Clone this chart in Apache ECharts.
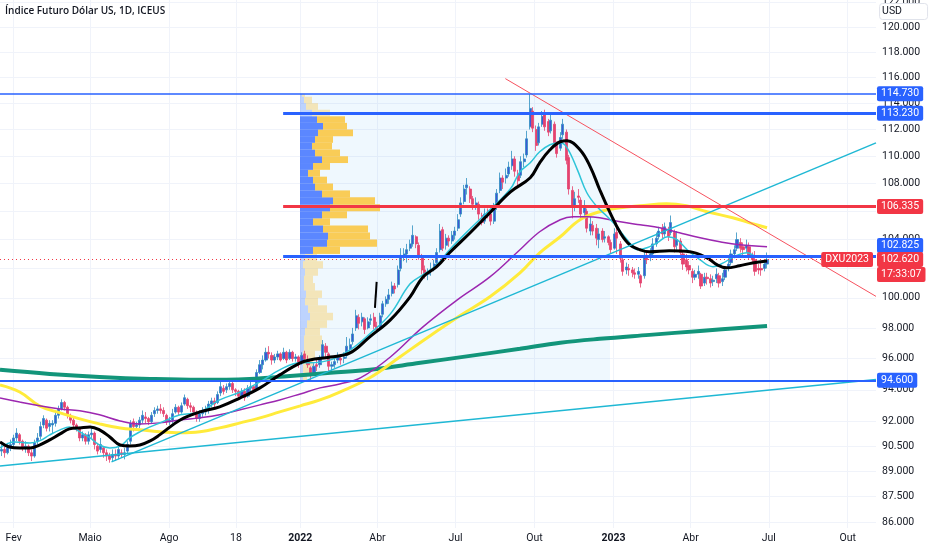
<!DOCTYPE html>
<html><head><meta charset="utf-8">
<script src="https://cdn.jsdelivr.net/npm/echarts@6/dist/echarts.min.js"></script>
<style>html,body{margin:0;padding:0;background:#fff}#c{width:932px;height:550px}</style>
</head><body><div id="c"></div>
<script>
const chartTitle = 'Índice Futuro Dólar US, 1D, ICEUS';
const currency = 'USD';
const symbolName = 'DXU2023';
const countdown = '17:33:07';
const lastPrice = 102.62;
const xMin = '2021-01-16', xMax = '2023-11-03';
const firstCandleDate = '2021-01-18'; // candles every Mon / Thu

// [open, close, low, high]
const candles = [
[90.2,90.3,89.9,90.6],[90.3,90.1,89.8,90.5],[90.1,90.4,90.0,90.7],[90.4,90.6,90.2,90.9],[90.6,91.0,90.4,91.2],[91.0,91.3,90.8,91.6],
[91.2,90.8,90.6,91.3],[90.8,90.4,90.2,90.9],[90.4,90.5,90.1,90.8],[90.5,90.1,89.9,90.6],[90.1,89.9,89.6,90.3],[89.9,90.7,89.8,90.9],
[90.8,91.0,90.6,91.3],[91.1,91.7,90.9,92.0],[91.8,92.2,91.6,92.4],[92.1,91.6,91.4,92.2],[91.7,91.9,91.4,92.1],[91.8,91.9,91.3,92.1],
[91.9,92.4,91.7,92.6],[92.4,92.8,92.2,93.0],[92.8,93.2,92.7,93.4],[93.2,92.9,92.7,93.3],[92.9,92.4,92.2,93.0],[92.4,92.1,91.9,92.5],
[92.1,91.8,91.6,92.3],[91.8,91.6,91.4,91.9],[91.6,91.0,90.8,91.7],[91.0,91.2,90.8,91.4],[91.2,90.8,90.6,91.3],[90.8,91.2,90.6,91.4],
[91.2,91.3,91.0,91.6],[91.3,90.6,90.3,91.4],[90.5,90.2,90.0,90.7],[90.3,90.6,90.1,91.0],[90.4,90.1,89.8,90.5],[90.1,89.9,89.6,90.3],
[89.9,89.7,89.5,90.1],[89.8,90.0,89.6,90.3],[90.0,89.9,89.6,90.3],[89.9,90.3,89.7,90.6],[90.1,90.0,89.8,90.3],[90.0,90.1,89.7,90.4],
[90.2,90.6,90.0,90.8],[90.8,91.9,90.6,92.1],[92.0,91.7,91.4,92.2],[91.7,91.8,91.5,92.0],[91.8,92.1,91.6,92.3],[92.1,92.4,91.9,92.7],
[92.3,92.2,91.9,92.6],[92.2,92.0,91.8,92.3],[92.0,92.4,91.9,92.6],[92.5,92.7,92.3,92.9],[92.7,92.8,92.5,93.0],[92.8,92.7,92.5,93.1],
[92.7,92.5,92.3,92.9],[92.4,92.0,91.8,92.5],[92.0,92.1,91.8,92.3],[92.1,92.5,91.9,92.8],[92.6,92.9,92.5,93.1],[92.9,92.6,92.4,93.0],
[92.6,93.0,92.5,93.2],[93.1,93.5,93.0,93.7],[93.4,93.0,92.8,93.5],[93.0,92.9,92.6,93.2],[92.9,92.6,92.4,93.0],[92.6,92.2,92.0,92.7],
[92.2,92.5,92.0,92.7],[92.5,92.6,92.3,92.9],[92.6,92.7,92.4,93.0],[92.7,93.1,92.5,93.3],[93.1,93.3,92.9,93.5],[93.3,93.1,92.9,93.5],
[93.2,93.7,93.1,93.9],[93.8,94.2,93.6,94.5],[94.1,93.9,93.7,94.3],[94.0,94.2,93.8,94.4],[94.2,94.4,94.0,94.6],[94.4,94.0,93.8,94.5],
[94.0,93.9,93.6,94.1],[93.9,93.6,93.4,94.0],[93.6,93.9,93.5,94.1],[93.9,93.5,93.3,94.1],[93.6,94.1,93.5,94.3],[94.1,94.2,93.8,94.5],
[94.2,94.0,93.8,94.3],[94.1,95.1,94.0,95.3],[95.1,95.6,95.0,95.9],[95.6,95.9,95.3,96.2],[95.9,96.4,95.8,96.7],[96.4,96.3,96.0,96.8],
[96.2,95.9,95.6,96.4],[95.9,96.1,95.7,96.3],[96.1,96.3,95.9,96.5],[96.3,95.9,95.8,96.4],[96.0,96.4,95.9,96.7],[96.4,95.9,95.7,96.5],
[96.0,96.4,95.9,96.6],[96.4,96.0,95.8,96.5],[96.0,96.1,95.8,96.3],[96.1,95.7,95.4,96.2],
[95.8,96.2,95.6,96.4],[96.3,96.0,95.8,96.5],[95.9,95.6,95.4,96.2],[95.4,94.9,94.6,95.5],[95.0,95.5,94.9,95.7],[95.6,95.5,95.2,95.9],
[95.6,96.0,95.4,96.2],[96.1,96.9,96.0,97.2],[96.8,96.4,96.1,97.0],[96.3,95.5,95.2,96.4],[95.5,95.6,95.2,95.8],[95.6,95.8,95.4,96.1],
[95.9,96.1,95.7,96.4],[96.0,95.9,95.6,96.2],[96.0,96.1,95.7,96.4],[96.2,96.8,96.0,97.4],[96.6,96.9,96.4,97.3],[97.1,97.6,96.9,98.0],
[98.0,98.8,97.8,99.2],[98.7,98.3,97.9,98.9],[98.4,98.7,98.1,99.0],[98.6,97.9,97.6,98.7],[98.0,98.4,97.9,98.7],[98.5,98.6,98.2,98.9],
[98.7,98.1,97.9,99.0],[98.1,97.9,97.7,98.4],[98.0,98.8,97.9,99.0],[98.9,99.6,98.7,99.8],[99.6,99.9,99.4,100.1],[99.9,100.2,99.6,100.6],
[100.3,100.8,100.1,101.1],[100.8,100.6,100.3,101.0],[100.9,101.9,100.7,102.2],[102.0,102.9,101.8,103.4],[102.8,103.0,102.5,103.4],[103.0,103.3,102.4,103.7],
[103.4,103.7,103.2,104.0],[103.7,104.3,103.5,105.0],[104.2,103.7,103.4,104.3],[103.6,102.9,102.6,103.8],[102.8,101.9,101.6,103.0],[101.9,101.6,101.3,102.2],
[101.6,101.7,101.2,102.0],[101.8,101.9,101.5,102.4],[102.0,102.3,101.8,102.6],[102.4,103.1,102.2,103.4],[103.3,104.6,103.1,105.1],[104.7,103.4,103.2,104.9],
[103.6,104.1,103.3,104.4],[104.1,103.9,103.5,104.3],[103.9,104.3,103.7,104.6],[104.3,104.6,104.0,104.9],[104.8,105.4,104.6,105.8],[105.8,106.6,105.6,107.0],
[106.7,107.6,106.5,107.9],[107.7,107.9,107.2,108.4],[107.6,106.9,106.6,107.8],[106.9,106.5,106.1,107.1],[106.4,106.6,106.1,107.0],[106.5,105.8,105.4,106.7],
[105.7,105.2,105.0,105.9],[105.3,105.8,105.1,106.2],[105.9,105.8,105.5,106.2],[105.8,105.3,105.0,106.0],[105.3,106.3,105.1,106.6],[106.3,107.3,106.1,107.6],
[107.5,108.4,107.3,108.8],[108.4,108.1,107.6,108.6],[108.4,108.6,108.0,109.1],[108.7,109.2,108.5,109.6],[109.3,109.8,109.0,110.4],[109.8,108.9,108.5,110.0],
[108.7,108.2,107.8,109.0],[108.6,109.6,108.4,110.0],[109.6,109.8,109.2,110.2],[110.1,111.3,109.9,111.9],[112.2,113.6,112.0,114.7],[113.4,112.1,111.8,113.7],
[112.0,110.8,110.4,112.3],[111.0,112.2,110.8,112.5],[112.4,113.0,112.2,113.4],[113.1,112.2,111.9,113.5],[112.6,111.8,111.5,112.8],[111.9,112.7,111.7,113.1],
[112.4,111.0,110.7,112.6],[110.9,110.2,109.9,111.1],[110.6,111.4,110.4,111.8],[111.6,112.4,111.3,112.8],[111.8,109.7,109.4,112.0],[109.9,107.6,107.2,110.1],
[107.5,106.4,105.5,107.8],[106.3,106.9,106.0,107.4],[107.1,107.0,106.6,107.6],[106.8,105.8,105.5,107.0],[105.9,106.3,105.6,106.8],[106.0,104.8,104.5,106.2],
[104.6,105.1,104.3,105.6],[105.0,104.6,104.3,105.3],[104.8,104.1,103.6,105.1],[104.0,104.4,103.4,104.8],[104.6,104.0,103.8,104.8],[104.1,104.2,103.8,104.6],
[104.2,103.8,103.6,104.3],[103.8,103.3,103.0,104.0],
[103.4,104.4,103.3,104.8],[104.5,104.1,103.0,105.2],[103.7,102.7,102.4,103.9],[102.6,101.8,101.5,102.9],[101.9,102.1,101.6,102.4],[102.0,101.9,101.5,102.3],
[101.9,101.7,101.4,102.1],[101.7,101.6,101.3,102.0],[101.6,101.8,101.3,102.1],[101.5,101.0,100.7,101.6],[101.5,102.9,101.3,103.3],[102.9,102.6,102.3,103.2],
[102.8,103.0,102.5,103.4],[103.0,103.7,102.8,104.1],[103.7,104.1,103.5,104.5],[104.2,104.6,104.0,104.9],[104.8,104.4,104.1,105.1],[104.4,104.9,104.2,105.2],
[104.6,104.2,103.9,104.9],[104.5,105.2,104.3,105.7],[104.5,103.5,103.1,104.7],[103.6,104.0,103.3,104.6],[103.9,103.1,102.9,104.1],[103.0,102.3,101.9,103.2],
[102.6,102.1,101.8,103.0],[102.2,101.9,101.6,102.5],[101.8,101.4,101.0,102.0],[101.4,101.6,101.2,101.9],[101.6,101.8,101.3,102.2],[101.6,100.8,100.6,101.7],
[101.0,101.4,100.8,101.7],[101.4,101.3,100.9,101.7],[101.3,101.0,100.7,101.6],[101.1,101.2,100.8,101.5],[101.3,101.6,101.0,102.0],[101.5,101.0,100.7,101.7],
[101.1,101.3,100.8,101.7],[101.4,101.9,101.2,102.1],[102.1,102.3,101.8,102.7],[102.4,103.0,102.2,103.3],[103.0,103.3,102.7,103.6],[103.4,104.0,103.2,104.5],
[103.8,103.4,103.1,104.1],[103.5,103.3,102.9,103.8],[103.4,103.6,103.1,104.0],[103.5,102.8,102.6,103.8],[102.9,102.6,102.4,103.1],[102.6,101.8,101.5,103.2],
[102.0,101.9,101.6,102.3],[102.0,101.9,101.5,102.5],[102.0,102.3,101.8,102.6],[102.3,102.6,102.0,103.1]
];

const xTickDates = ['2021-02-01','2021-05-01','2021-08-01','2021-10-18','2022-01-01','2022-04-01','2022-07-01','2022-10-01','2023-01-01','2023-04-01','2023-07-01','2023-10-01'];
const xTickLabels = ['Fev','Maio','Ago','18','2022','Abr','Jul','Out','2023','Abr','Jul','Out'];
const yTicks = [86, 87.5, 89, 90.5, 92, 94, 96, 98, 100, 102, 104, 106, 108, 110, 112, 114, 116, 118, 120, 122];

const maGreen = [['2021-01-16',95.27],['2021-03-15',95.01],['2021-05-12',94.82],['2021-07-10',94.69],['2021-09-06',94.63],['2021-11-03',94.69],['2021-12-20',94.88],['2022-02-05',95.08],['2022-03-23',95.27],['2022-05-21',95.72],['2022-07-18',96.17],['2022-09-14',96.63],['2022-10-31',97.02],['2022-12-16',97.28],['2023-02-12',97.54],['2023-04-12',97.80],['2023-06-29',98.13]];
const maYellow = [['2021-01-16',94.31],['2021-02-08',93.86],['2021-03-03',92.99],['2021-03-27',92.55],['2021-04-19',92.18],['2021-05-12',91.87],['2021-06-05',91.62],['2021-06-28',91.50],['2021-07-21',91.38],['2021-08-14',91.32],['2021-09-06',91.38],['2021-09-29',91.62],['2021-10-23',91.93],['2021-11-15',92.24],['2021-12-08',92.61],['2022-01-01',92.99],['2022-01-24',93.36],['2022-02-16',93.86],['2022-03-23',94.76],['2022-04-27',96.10],['2022-06-01',97.47],['2022-07-06',98.80],['2022-08-10',100.07],['2022-09-14',101.70],['2022-10-07',103.08],['2022-10-31',104.20],['2022-11-23',105.40],['2022-12-16',105.97],['2023-01-09',106.25],['2023-02-01',106.39],['2023-03-04',106.54],['2023-03-27',106.39],['2023-04-20',105.97],['2023-05-20',105.54],['2023-06-12',105.12],['2023-06-29',104.83]];
const maPurple = [['2021-01-16',93.49],['2021-02-08',93.23],['2021-03-03',92.99],['2021-03-27',92.80],['2021-04-19',92.68],['2021-05-12',92.43],['2021-06-05',92.05],['2021-06-28',91.86],['2021-07-21',91.93],['2021-08-14',92.11],['2021-09-06',92.24],['2021-09-29',92.43],['2021-10-23',92.74],['2021-11-15',93.05],['2021-12-08',93.36],['2022-01-01',93.74],['2022-01-24',94.12],['2022-02-16',94.37],['2022-03-12',94.76],['2022-04-16',96.10],['2022-05-24',98.07],['2022-07-03',99.87],['2022-08-10',101.42],['2022-09-14',103.29],['2022-10-07',104.55],['2022-10-31',105.40],['2022-11-15',105.61],['2022-12-01',105.61],['2022-12-16',105.54],['2023-01-09',105.26],['2023-02-01',105.04],['2023-02-24',104.83],['2023-03-19',104.48],['2023-04-12',104.13],['2023-05-05',103.85],['2023-05-28',103.64],['2023-06-29',103.50]];
const maBlack = [['2021-01-16',90.76],['2021-01-27',90.45],['2021-02-08',90.39],['2021-02-20',90.39],['2021-03-03',90.57],['2021-03-15',90.88],['2021-03-27',91.25],['2021-04-07',91.56],['2021-04-19',91.62],['2021-05-01',91.68],['2021-05-12',91.50],['2021-05-24',91.06],['2021-06-05',90.57],['2021-06-16',90.51],['2021-06-28',90.57],['2021-07-10',90.82],['2021-07-21',91.19],['2021-08-14',92.11],['2021-09-06',92.61],['2021-09-29',92.93],['2021-10-23',93.49],['2021-11-15',94.12],['2021-12-08',94.95],['2022-01-01',95.72],['2022-01-12',95.91],['2022-02-05',96.10],['2022-02-28',96.36],['2022-03-23',97.41],['2022-04-16',98.53],['2022-05-09',100.07],['2022-05-24',101.42],['2022-06-09',102.12],['2022-06-24',103.08],['2022-07-18',104.48],['2022-08-10',105.90],['2022-09-03',107.40],['2022-09-26',108.42],['2022-10-07',109.52],['2022-10-19',110.48],['2022-10-31',111.08],['2022-11-08',111.15],['2022-11-23',110.48],['2022-12-05',109.22],['2022-12-16',107.55],['2022-12-28',105.90],['2023-01-09',104.48],['2023-01-20',103.64],['2023-02-01',103.29],['2023-02-12',103.15],['2023-03-07',103.22],['2023-03-31',103.15],['2023-04-20',102.73],['2023-05-02',102.24],['2023-05-13',102.04],['2023-05-28',102.18],['2023-06-12',102.38],['2023-06-29',102.52]];
const maCyan = [['2021-01-16',90.39],['2021-02-02',90.76],['2021-02-20',90.70],['2021-03-03',90.82],['2021-03-15',91.19],['2021-03-27',91.50],['2021-04-07',91.68],['2021-04-19',91.38],['2021-05-01',91.00],['2021-05-12',90.57],['2021-05-24',90.39],['2021-06-05',90.51],['2021-06-16',91.00],['2021-06-28',91.38],['2021-07-10',91.68],['2021-07-21',91.92],['2021-08-14',92.43],['2021-09-06',92.61],['2021-09-29',93.36],['2021-10-23',93.86],['2021-11-15',94.50],['2021-12-08',95.27],['2022-01-01',95.72],['2022-01-12',95.72],['2022-02-05',95.91],['2022-02-28',96.56],['2022-03-23',97.61],['2022-04-16',98.93],['2022-05-09',100.95],['2022-05-24',101.57],['2022-06-09',102.24],['2022-06-24',103.29],['2022-07-18',104.76],['2022-08-10',106.11],['2022-09-03',107.62],['2022-09-14',108.85],['2022-09-26',109.52],['2022-10-07',110.33],['2022-10-19',110.86],['2022-10-31',111.00],['2022-11-08',110.63],['2022-11-20',109.00],['2022-12-01',107.33],['2022-12-13',106.32],['2022-12-25',105.61],['2023-01-05',104.90],['2023-01-17',103.99],['2023-01-29',103.29],['2023-02-09',103.43],['2023-02-21',103.78],['2023-03-05',104.20],['2023-03-16',103.99],['2023-03-28',103.29],['2023-04-12',102.59],['2023-04-27',102.12],['2023-05-09',102.38],['2023-05-21',102.80],['2023-06-06',103.08],['2023-06-18',102.80],['2023-06-29',102.80]];

const trendLower = [['2021-01-16',89.30],['2023-11-03',94.65]];
const trendUpper = [['2021-05-26',89.55],['2023-11-03',111.00]];
const trendRed = [['2022-08-28',115.90],['2023-11-03',100.10]];
const trendMark = [['2022-03-31',101.08],['2022-03-29',99.33]];

const levelValues = [114.73, 113.23, 106.335, 102.825, 94.6];
const levelStarts = ['2021-01-16','2021-12-12','2021-12-12','2021-12-12','2021-01-16'];
const levelKinds = ['blue','blue','red','blue','blue'];

const profileStart = '2022-01-01', profileEnd = '2022-12-28';
const valueArea = [102.825, 113.23];
// [low, high, upVolume, downVolume]
const profile = [
[94.6,95.0,3,4],[95.0,95.5,3,7],[95.5,96.0,3,10],[96.0,96.5,3,12],[96.5,97.0,4,19],[97.0,97.5,4,18],[97.5,98.0,5,15],[98.0,98.5,7,20],
[98.5,99.0,10,23],[99.0,99.5,8,19],[99.5,100.0,5,13],[100.0,100.5,6,16],[100.5,101.0,4,11],[101.0,101.5,4,9],[101.5,102.0,5,13],[102.0,102.5,3,20],
[102.5,103.0,5,12],[103.0,103.5,13,27],[103.5,104.0,27,50],[104.0,104.5,28,42],[104.5,105.0,23,45],[105.0,105.5,13,17],[105.5,106.0,22,25],[106.0,106.5,30,50],
[106.5,107.0,33,42],[107.0,107.5,22,28],[107.5,108.0,15,18],[108.0,108.5,13,14],[108.5,109.0,8,12],[109.0,109.5,13,17],[109.5,110.0,22,26],[110.0,110.5,15,25],
[110.5,111.0,12,20],[111.0,111.5,15,18],[111.5,112.0,18,35],[112.0,112.5,23,24],[112.5,113.0,17,28],[113.0,113.5,12,18],[113.5,114.0,6,12],[114.0,114.5,4,8],[114.5,114.73,2,3]
];

// ---------- build ----------
const BLUE = '#2962ff', RED = '#f23645';
const UP = '#3f56d6', UP_WICK = '#2f8fc0', DOWN = '#e4436f';
const FONT = 'Roboto';

function ts(d){ return echarts.time.parse(d).getTime(); }
function toXY(arr){ return arr.map(p => [ts(p[0]), p[1]]); }

const dates = [];
(function(){
  const p = firstCandleDate.split('-').map(Number);
  let t = Date.UTC(p[0], p[1]-1, p[2]);
  for (let i = 0; i < candles.length; i++) {
    dates.push(new Date(t).toISOString().slice(0,10));
    t += (i % 2 === 0 ? 3 : 4) * 86400000;
  }
})();
const candleData = candles.map((r,i) => [ts(dates[i]), r[0], r[1], r[2], r[3]]);

const tickStamps = xTickDates.map(ts);
function xLabel(v){
  let best = -1, bd = Infinity;
  tickStamps.forEach((t,i) => { const d = Math.abs(t - v); if (d < bd) { bd = d; best = i; } });
  if (best < 0 || bd > 2*86400000) return '';
  const s = xTickLabels[best];
  return /^\d{4}$/.test(s) ? '{b|' + s + '}' : s;
}

const X1 = ts(xMax);
function tag(v, color, text, pos, offset, dist){
  return {
    coord: [X1, v], symbol: 'rect', symbolSize: 0,
    label: { show: true, position: pos || 'right', distance: dist == null ? 1 : dist, offset: offset || [0,0],
      formatter: text, backgroundColor: color, color: '#ffffff', padding: [2,4,1,4], borderRadius: 2,
      fontSize: 10.5, fontFamily: FONT, lineHeight: 12 }
  };
}

const markLines = levelValues.map((v,i) => {
  const col = levelKinds[i] === 'red' ? RED : BLUE;
  const w = (i === 0) ? 1.5 : (i === 4 ? 2 : 3);
  return [{coord: [ts(levelStarts[i]), v], lineStyle: {color: col, width: w, type: 'solid'}}, {coord: [X1, v]}];
});
markLines.push({yAxis: lastPrice, lineStyle: {color: RED, width: 1, type: [1,3]}});

const markPoints = levelValues.map((v,i) => tag(v, levelKinds[i] === 'red' ? RED : BLUE, v.toFixed(3), 'right', (v === 102.825 ? [0,-11] : [0,0])));
markPoints.push(tag(lastPrice, RED, lastPrice.toFixed(3), 'right', [0,0]));
markPoints.push(tag(lastPrice, RED, countdown, 'right', [0,15]));
markPoints.push(tag(lastPrice, RED, symbolName, 'left', [0,0], 3));

function line(name, data, color, width, smooth, z){
  return { type: 'line', name: name, data: toXY(data), xAxisIndex: 0, yAxisIndex: 0, showSymbol: false, symbol: 'none',
    smooth: smooth, lineStyle: {color: color, width: width}, z: z || 4, silent: true, animation: false };
}

const option = {
  animation: false,
  backgroundColor: '#ffffff',
  textStyle: {fontFamily: FONT},
  title: [
    {text: chartTitle, left: 5, top: 6, padding: 0, textStyle: {fontSize: 10, fontWeight: 600, color: '#131722', fontFamily: 'Open Sans'}},
    {text: currency, right: 4, top: 3, padding: [3,26,3,3], backgroundColor: '#ffffff', borderColor: '#e0e3eb', borderWidth: 1, borderRadius: 3,
     textStyle: {fontSize: 10.5, fontWeight: 'normal', color: '#131722', fontFamily: FONT}}
  ],
  grid: {left: 0, right: 56, top: 0, bottom: 22, outerBoundsMode: 'none'},
  xAxis: [
    { type: 'value', min: ts(xMin), max: X1, gridIndex: 0, scale: true,
      axisLine: {show: false}, axisTick: {show: false, customValues: tickStamps},
      axisLabel: {customValues: tickStamps, formatter: xLabel, fontSize: 10.5, color: '#131722', margin: 5, fontFamily: FONT,
        rich: {b: {fontWeight: 'bold', fontSize: 10.5, color: '#131722', fontFamily: FONT}}},
      splitLine: {show: true, lineStyle: {color: '#f0f3fa', width: 1}} },
    { type: 'value', gridIndex: 0, min: -300, max: 576, show: false }
  ],
  yAxis: [
    { type: 'log', logBase: 10, min: 85.65, max: 122.2, position: 'right', gridIndex: 0,
      axisLine: {show: false}, axisTick: {show: false, customValues: yTicks},
      axisLabel: {customValues: yTicks, formatter: v => Number(v).toFixed(3), fontSize: 10.5, color: '#131722', margin: 6, fontFamily: FONT},
      splitLine: {show: true, lineStyle: {color: '#f0f3fa', width: 1}} }
  ],
  series: [
    { type: 'custom', name: 'profile', xAxisIndex: 1, yAxisIndex: 0, z: 2, silent: true, data: profile,
      encode: {x: [2,3], y: [0,1]},
      renderItem: function(params, api){
        const lo = api.value(0), hi = api.value(1), up = api.value(2), dn = api.value(3);
        const mid = (lo + hi) / 2;
        const inVA = mid >= valueArea[0] && mid <= valueArea[1];
        const a = api.coord([0, hi]), b = api.coord([up, lo]), c = api.coord([up + dn, lo]);
        return {type: 'group', children: [
          {type: 'rect', shape: {x: a[0], y: a[1], width: b[0] - a[0], height: b[1] - a[1]}, style: {fill: inVA ? 'rgba(41,98,255,0.75)' : 'rgba(41,98,255,0.25)'}},
          {type: 'rect', shape: {x: b[0], y: a[1], width: c[0] - b[0], height: c[1] - a[1]}, style: {fill: inVA ? 'rgba(251,192,45,0.8)' : 'rgba(251,192,45,0.33)'}}
        ]};
      }
    },
    { type: 'candlestick', name: symbolName, xAxisIndex: 0, yAxisIndex: 0, data: candleData, encode: {x: 0, y: [1,2,3,4]},
      barWidth: 2.6, z: 3, silent: true, clip: false,
      itemStyle: {color: UP, color0: DOWN, borderColor: UP_WICK, borderColor0: DOWN, borderWidth: 0.8},
      markArea: {silent: true, itemStyle: {color: 'rgba(33,150,243,0.07)'},
        data: [[{coord: [ts(profileStart), levelValues[4]]}, {coord: [ts(profileEnd), levelValues[0]]}]]},
      markLine: {symbol: ['none','none'], silent: true, animation: false, label: {show: false}, emphasis: {disabled: true}, data: markLines},
      markPoint: {silent: true, animation: false, data: markPoints}
    },
    line('MA long', maGreen, '#12957a', 4, 0.4),
    line('MA 200', maYellow, '#ffeb3b', 3, 0.4),
    line('MA 100', maPurple, '#9c27b0', 1.5, 0.4),
    line('MA 20', maCyan, '#2ec4d8', 1.5, 0.4),
    line('MA 50', maBlack, '#000000', 3, 0.4),
    line('Trend lower', trendLower, '#1fb8d4', 1.5, false, 4),
    line('Trend upper', trendUpper, '#1fb8d4', 1.5, false, 4),
    line('Trend down', trendRed, '#f7525f', 1, false, 4),
    line('Mark', trendMark, '#000000', 2, false, 4)
  ]
};

const chart = echarts.init(document.getElementById('c'));
chart.setOption(option);
</script>
</body></html>
